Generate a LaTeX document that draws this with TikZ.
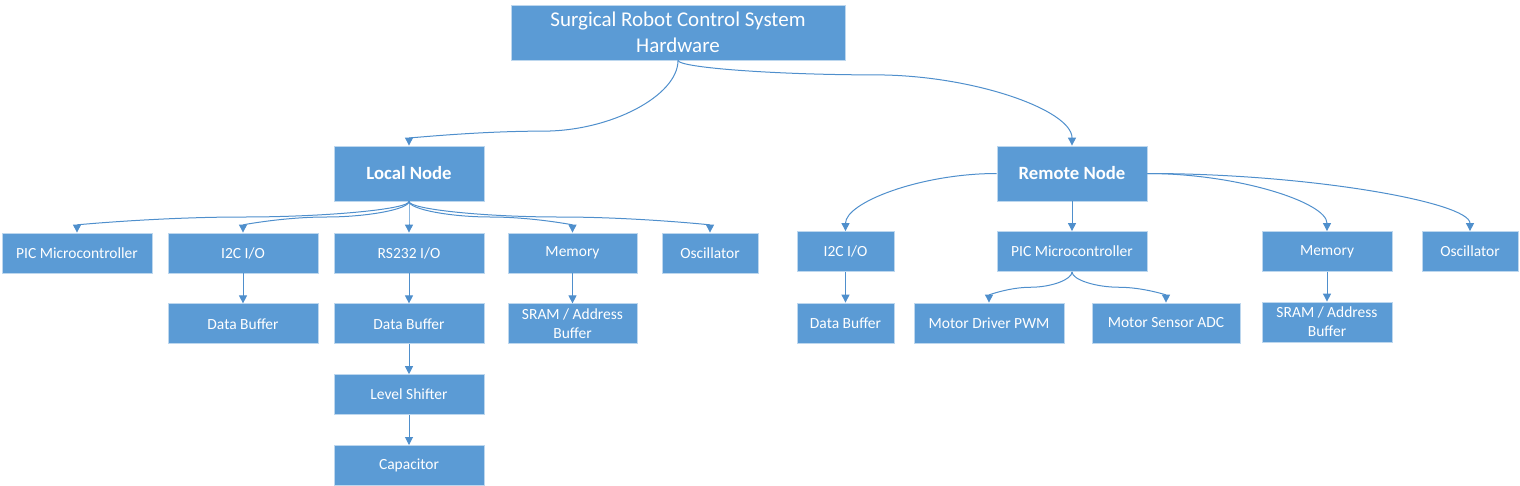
\documentclass[tikz,border=0pt]{standalone}
\usepackage{fontspec}
\setmainfont{Carlito}
\usetikzlibrary{positioning,arrows.meta,calc}
\definecolor{OfficeBlue}{HTML}{5B9BD5}
\definecolor{EdgeBlue}{HTML}{BDD7EE}
\definecolor{WireBlue}{HTML}{4F8FCC}

\begin{document}
\begin{tikzpicture}[x=1pt, y=-1pt,
    blk/.style={draw=EdgeBlue, fill=OfficeBlue, text=white, line width=0.8pt,
                minimum height=40pt, minimum width=150pt, inner sep=1pt,
                font=\fontsize{15.5}{19}\selectfont, align=center},
    head/.style={blk, minimum height=55pt,
                 font=\fontsize{18.7}{22}\selectfont\bfseries},
    ar/.style={-{Triangle[length=8pt,width=8pt]}, draw=WireBlue, line width=1pt},
    % curved connector, down out and down in; #1 = where the flat run sits
    curv/.style={to path={let \p1=(\tikztostart), \p2=(\tikztotarget),
        \p3=($(\p1)!#1!(\p2)$) in
        .. controls (\x1,{(\y1+\y3)/2}) and ({(3*\x1+\x2)/4},\y3) .. ({(\x1+\x2)/2},\y3)
        .. controls ({(\x1+3*\x2)/4},\y3) and (\x2,{(\y3+\y2)/2}) .. (\tikztotarget)}},
    curv/.default=0.5,
    % one bend: leaves sideways, comes in from above
    side/.style={to path={let \p1=(\tikztostart), \p2=(\tikztotarget) in
        .. controls ({(\x1+\x2)/2},\y1) and (\x2,{(\y1+\y2)/2}) .. (\tikztotarget)}},
    node distance=30pt,
  ]
  \useasboundingbox (0,0) rectangle (1520,485);

  \node[blk, minimum width=334pt, minimum height=55pt,
        font=\fontsize{21}{26}\selectfont] (sys) at (678,32.5)
        {Surgical Robot Control System\\Hardware};
  \node[head] (ln) at (409,173.5) {Local Node};
  \node[head] (rn) at (1072,173.5) {Remote Node};

  % local node
  \node[blk] (lpic) at (77,253) {PIC Microcontroller};
  \node[blk] (li2c) at (243,253) {I2C I/O};
  \node[blk] (lrs) at (409,253) {RS232 I/O};
  \node[blk, minimum width=129pt] (lmem) at (572.5,253) {Memory};
  \node[blk, minimum width=96pt] (losc) at (710,253) {Oscillator};
  \node[blk, below=of li2c] (ldb1) {Data Buffer};
  \node[blk, below=of lrs] (ldb2) {Data Buffer};
  \node[blk, minimum width=129pt, below=of lmem] (lsram) {SRAM / Address\\Buffer};
  \node[blk, below=of ldb2] (lls) {Level Shifter};
  \node[blk, below=of lls] (lcap) {Capacitor};

  % remote node
  \node[blk, minimum width=97pt] (ri2c) at (845.5,251.5) {I2C I/O};
  \node[blk] (rpic) at (1072,251.5) {PIC Microcontroller};
  \node[blk, minimum width=130pt] (rmem) at (1327,251.5) {Memory};
  \node[blk, minimum width=96pt] (rosc) at (1470,251.5) {Oscillator};
  \node[blk, minimum width=97pt] (rdb) at (845.5,323) {Data Buffer};
  \node[blk] (rmd) at (989,323) {Motor Driver PWM};
  \node[blk, minimum width=148pt] (rms) at (1166,323) {Motor Sensor ADC};
  \node[blk, minimum width=130pt] (rsram) at (1327,322) {SRAM / Address\\Buffer};

  \draw[ar] (sys.south) to[curv=0.83] (ln.north);
  \draw[ar] (sys.south) to[curv=0.17] (rn.north);
  \foreach \k in {lpic,li2c,lrs,lmem,losc}
    \draw[ar] (ln.south) to[curv] (\k.north);
  \draw[ar] (li2c) -- (ldb1);
  \draw[ar] (lrs) -- (ldb2);
  \draw[ar] (ldb2) -- (lls);
  \draw[ar] (lls) -- (lcap);
  \draw[ar] (lmem) -- (lsram);

  \draw[ar] (rn.west) to[side] (ri2c.north);
  \draw[ar] (rn) -- (rpic);
  \draw[ar] (rn.east) to[side] (rmem.north);
  \draw[ar] (rn.east) to[side] (rosc.north);
  \draw[ar] (rpic.south) to[curv] (rmd.north);
  \draw[ar] (rpic.south) to[curv] (rms.north);
  \draw[ar] (ri2c) -- (rdb);
  \draw[ar] (rmem) -- (rsram);
\end{tikzpicture}
\end{document}
